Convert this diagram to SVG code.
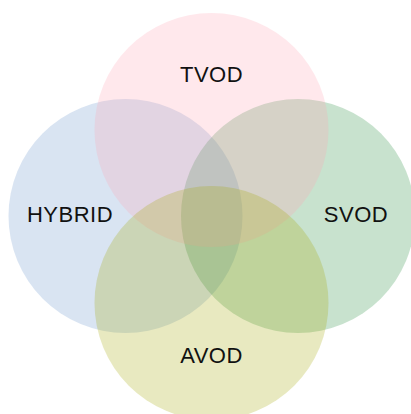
<svg xmlns="http://www.w3.org/2000/svg" width="411" height="414" viewBox="0 0 411 414">
<style>
.c{opacity:0.25}
.t{font-family:"Liberation Sans",Arial,sans-serif;font-size:22px;fill:#111;text-anchor:middle;letter-spacing:0.5px}
</style>
<rect width="411" height="414" fill="#fff"/>
<g id="hybrid"><circle class="c" cx="125.5" cy="216" r="117" fill="#6793cb"/></g>
<g id="svod"><circle class="c" cx="298" cy="216" r="117" fill="#238b3b"/></g>
<g id="tvod"><circle class="c" cx="211.5" cy="130" r="117" fill="#ffa3b3"/></g>
<g id="avod"><circle class="c" cx="211.5" cy="303" r="117" fill="#a3a703"/></g>
<g id="connectors"></g>
<g id="labels">
<text class="t" x="211.5" y="82.3">TVOD</text>
<text class="t" x="70" y="222.3">HYBRID</text>
<text class="t" x="356" y="222.3">SVOD</text>
<text class="t" x="211.5" y="363.3">AVOD</text>
</g>
</svg>
